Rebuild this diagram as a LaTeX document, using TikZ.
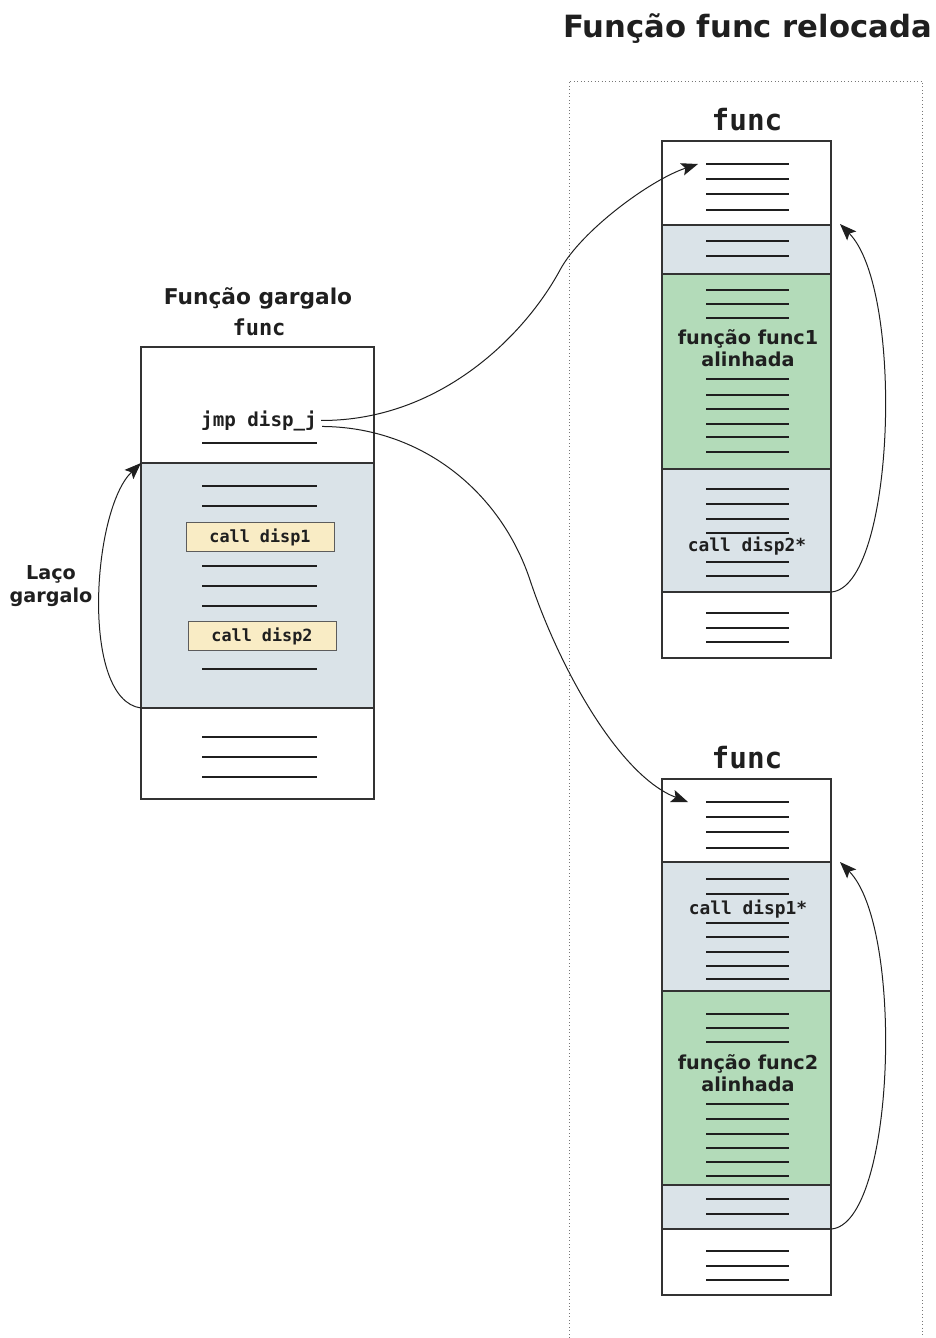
\documentclass[tikz,border=0pt]{standalone}
\usepackage{fontspec}
\setmainfont{DejaVu Sans}
\setmonofont{DejaVu Sans Mono}
\usetikzlibrary{arrows.meta,fit}
\definecolor{ink}{HTML}{1F1F1F}
\definecolor{edgegray}{HTML}{333333}
\definecolor{loopfill}{HTML}{DAE3E8}
\definecolor{inlinefill}{HTML}{B3DBB9}
\definecolor{callfill}{HTML}{F9ECC5}
\definecolor{dotgray}{HTML}{777777}
\begin{document}
\begin{tikzpicture}[x=0.75pt,y=-0.75pt,
  sec/.style={draw=edgegray,line width=0.9pt,inner sep=0pt,outer sep=0pt},
  whitesec/.style={sec,fill=white},
  loopsec/.style={sec,fill=loopfill},
  inlsec/.style={sec,fill=inlinefill},
  codeln/.style={line width=2pt,draw=ink},
  rcodeln/.style={line width=1.8pt,draw=ink},
  sanstxt/.style={text=ink,inner sep=0pt,font=\bfseries\fontsize{#1}{#1}\selectfont},
  monotxt/.style={text=ink,inner sep=0pt,font=\ttfamily\bfseries\fontsize{#1}{#1}\selectfont},
  twoline/.style={text=ink,inner sep=0pt,align=center,font=\bfseries\fontsize{14.4}{#1}\selectfont},
  callbox/.style={draw=edgegray!80,line width=0.7pt,fill=callfill,inner sep=0pt,
    minimum width=111pt,minimum height=22pt,text=ink,font=\ttfamily\bfseries\fontsize{12.6}{12.6}\selectfont},
  conn/.style={draw=ink,line width=0.75pt},
  tip/.style={-{Stealth[length=12.5pt,width=9.5pt,inset=2.5pt]}}
]
\useasboundingbox (0,0) rectangle (935,1338);

% frame around the relocated copies (open at the bottom)
\draw[dotted,dotgray,line width=0.6pt] (569,1338) -- (569,81) -- (922,81) -- (922,1338);
\node[sanstxt=23, anchor=base] (title) at (747.5,38) {Função func relocada};

% ---------- bottleneck function ----------
\node[sanstxt=16.3, anchor=base] (gtitle) at (258,304) {Função gargalo};
\node[monotxt=16.5, anchor=base] (gfunc) at (259,335) {func};
\node[whitesec, fit={(141,347) (374,463)}] (la) {};
\node[loopsec, fit={(141,463) (374,708)}] (lb) {};
\node[whitesec, fit={(141,708) (374,799)}] (lc) {};
\node[monotxt=14.4, anchor=base] (jmp) at (259,426) {jmp disp\_j};
\foreach \y in {443,486,506,566,586,606,669,737,757,777}
  \draw[codeln] (202,\y) -- (317,\y);
\node[callbox] (c1) at (260,537) {call disp1};
\node[callbox] (c2) at (262,636) {call disp2};
% base anchor of a two-line node sits on its last line
\node[twoline=17.25, anchor=base] (loopl) at (51,602) {Laço\\gargalo};

% ---------- relocated copy with func1 inlined ----------
\node[monotxt=22, anchor=base] (fa) at (747,130) {func};
\node[whitesec, fit={(662,141) (831,225)}] (r1a) {};
\node[loopsec, fit={(662,225) (831,274)}] (r1b) {};
\node[inlsec, fit={(662,274) (831,469)}] (r1c) {};
\node[loopsec, fit={(662,469) (831,592)}] (r1d) {};
\node[whitesec, fit={(662,592) (831,658)}] (r1e) {};
\foreach \y in {164,179,194,210,241,256,290,304,318,379,395,409,424,437,452,489,504,519,533,562,576,613,628,642}
  \draw[rcodeln] (706,\y) -- (789,\y);
\node[twoline=16.5, anchor=base] (inl1) at (748,366) {função func1\\alinhada};
\node[monotxt=13.4, anchor=base] (cd2) at (747,551) {call disp2*};

% ---------- relocated copy with func2 inlined ----------
\node[monotxt=22, anchor=base] (fb) at (747,768) {func};
\node[whitesec, fit={(662,779) (831,862)}] (r2a) {};
\node[loopsec, fit={(662,862) (831,991)}] (r2b) {};
\node[inlsec, fit={(662,991) (831,1185)}] (r2c) {};
\node[loopsec, fit={(662,1185) (831,1229)}] (r2d) {};
\node[whitesec, fit={(662,1229) (831,1295)}] (r2e) {};
\foreach \y in {802,817,832,848,879,894,923,937,952,966,979,1014,1028,1042,1104,1119,1134,1148,1162,1176,1199,1214,1251,1266,1280}
  \draw[rcodeln] (706,\y) -- (789,\y);
\node[monotxt=13.4, anchor=base] (cd1) at (748,914) {call disp1*};
\node[twoline=16.5, anchor=base] (inl2) at (748,1091) {função func2\\alinhada};

% ---------- connectors ----------
\coordinate (entry1) at (698,164);
\coordinate (entry2) at (688,802);
\coordinate (back1) at (840,224);
\coordinate (back2) at (840,862);
\draw[conn,tip] ([shift={(4,0)}]jmp.east) .. controls (440,421) and (525,335) .. (560,270)
  .. controls (581,231) and (650,180) .. (entry1);
\draw[conn,tip] ([shift={(5,6)}]jmp.east) .. controls (420,427) and (500,490) .. (530,580)
  .. controls (560,670) and (620,776) .. (entry2);
\draw[conn,tip] (lb.south west) .. controls (80,700) and (92,510) .. (lb.north west);
\draw[conn,tip] (r1d.south east) .. controls (895,588) and (905,290) .. (back1);
\draw[conn,tip] (r2d.south east) .. controls (895,1225) and (905,928) .. (back2);
\end{tikzpicture}
\end{document}
